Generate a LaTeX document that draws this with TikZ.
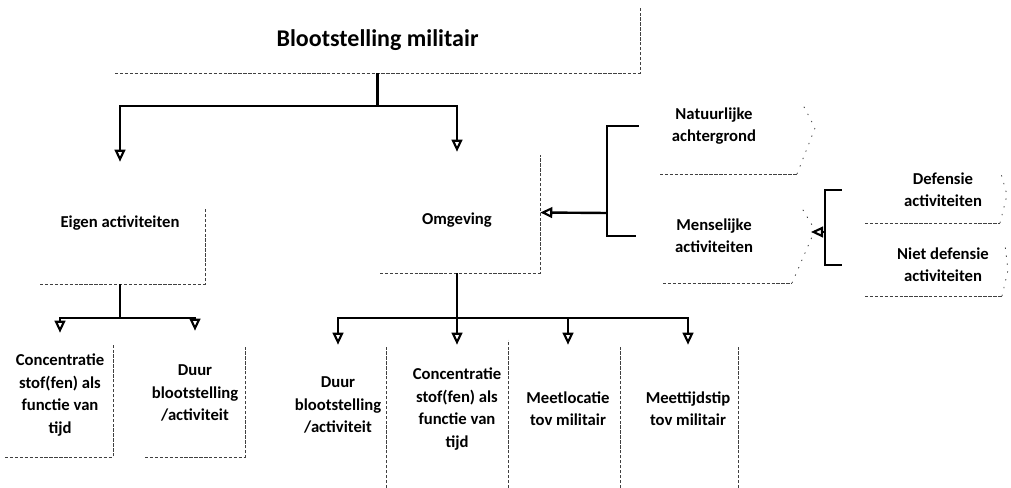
\documentclass[tikz,border=0pt]{standalone}
\usepackage{fontspec}
\setmainfont{Carlito}
\usepackage{tikz}
\usetikzlibrary{arrows.meta}

\begin{document}
\begin{tikzpicture}[x=0.75pt,y=-0.75pt,
  lbl/.style={font=\bfseries\fontsize{12.5}{16.8}\selectfont,align=center,inner sep=0pt},
  vak/.style={lbl,minimum width=#1},
  rim/.style={black!75,line width=0.5pt,dash pattern=on 2.5pt off 1.2pt},
  stip/.style={black!75,line width=0.6pt,dash pattern=on 1pt off 5pt},
  lijn/.style={line width=1.8pt},
  pijl/.style={line width=1.8pt,-{Triangle[open,width=8pt,length=9pt,line width=1.6pt]}}]
  \useasboundingbox (0,0) rectangle (1011,488);

  \node[lbl,font=\bfseries\fontsize{18}{22}\selectfont,minimum width=393.75pt,minimum height=48.75pt] (top) at (377.5,40.5) {Blootstelling militair};
  \node[lbl,minimum width=123.75pt,minimum height=91.5pt] (eig) at (120,223) {Eigen activiteiten};
  \node[lbl,minimum width=124.5pt,minimum height=90.75pt,
    label={[lbl,yshift=-6pt]center:Omgeving}] (omg) at (457,212.5) {};

  \node[vak=112.5pt] (nat) at (714,126) {Natuurlijke\\achtergrond};
  \node[vak=117pt] (men) at (714,236) {Menselijke\\activiteiten};
  \node[vak=151.5pt] (def) at (943,190) {Defensie\\activiteiten};
  \node[vak=151.5pt] (nde) at (943,265) {Niet defensie\\activiteiten};

  \node[lbl,minimum width=81pt,minimum height=93pt] (con1) at (60,395) {Concentratie\\stof(fen) als\\functie van\\tijd};
  \node[lbl,minimum width=75pt,minimum height=93pt] (duur1) at (195,393) {Duur\\blootstelling\\/activiteit};
  \node[lbl,minimum width=72pt,minimum height=90pt] (duur2) at (338,405) {Duur\\blootstelling\\/activiteit};
  \node[lbl,minimum width=79.5pt,minimum height=96pt] (con2) at (457,409) {Concentratie\\stof(fen) als\\functie van\\tijd};
  \node[lbl,minimum width=78pt,minimum height=96pt] (loc) at (568,409) {Meetlocatie\\tov militair};
  \node[lbl,minimum width=75pt,minimum height=96pt] (tijd) at (688,409) {Meettijdstip\\tov militair};

  % half getekende kaders
  \draw[rim] (115,73) -- (640,73) -- (640,8);
  \draw[rim] (40,284) -- (205,284) -- (205,208);
  \draw[rim] (380,273) -- (540,273) -- (540,155);
  \draw[rim] (660,174) -- (797,174);
  \draw[stip] (797,174) -- (815,128) -- (803,105);
  \draw[rim] (663,283) -- (792,283);
  \draw[stip] (792,283) -- (815,230) -- (800,205);
  \draw[rim] (865,223) -- (1000,223);
  \draw[stip] (1000,223) -- (1007,195) -- (1000,170);
  \draw[rim] (865,296) -- (1002,296);
  \draw[stip] (1002,296) -- (1008,270) -- (1005,245);
  \draw[rim] (5,457) -- (113,457) -- (113,345);
  \draw[rim] (145,457) -- (245,457) -- (245,347);
  \draw[rim] (386,488) -- (386,345);
  \draw[rim] (508,488) -- (508,340);
  \draw[rim] (620,488) -- (620,345);
  \draw[rim] (738,488) -- (738,345);

  \draw[lijn] (top.south) -- ++(0,33) coordinate (split);
  \draw[pijl] (split) -| (eig.north);
  \draw[pijl] (split) -| (omg.north);

  \coordinate (nj) at (607,213);
  \draw[lijn] (nat.west) -| (nj);
  \draw[lijn] (men.west) -| (nj);
  \draw[pijl] (nj) -- (omg.east);

  \coordinate (dj) at (825,232);
  \coordinate (mtip) at (811,232);
  \draw[lijn] (def.west) -| (dj);
  \draw[lijn] (nde.west) -| (dj);
  \draw[pijl] (dj) -- (mtip);

  \draw[lijn] (eig.south) -- ++(0,34) coordinate (ej);
  \draw[pijl] (ej) -| (con1.north);
  \draw[pijl] (ej) -| (duur1.north);

  \draw[lijn] (omg.south) -- ++(0,45) coordinate (oj);
  \foreach \n in {duur2,con2,loc,tijd}
    \draw[pijl] (oj) -| (\n.north);
\end{tikzpicture}
\end{document}
